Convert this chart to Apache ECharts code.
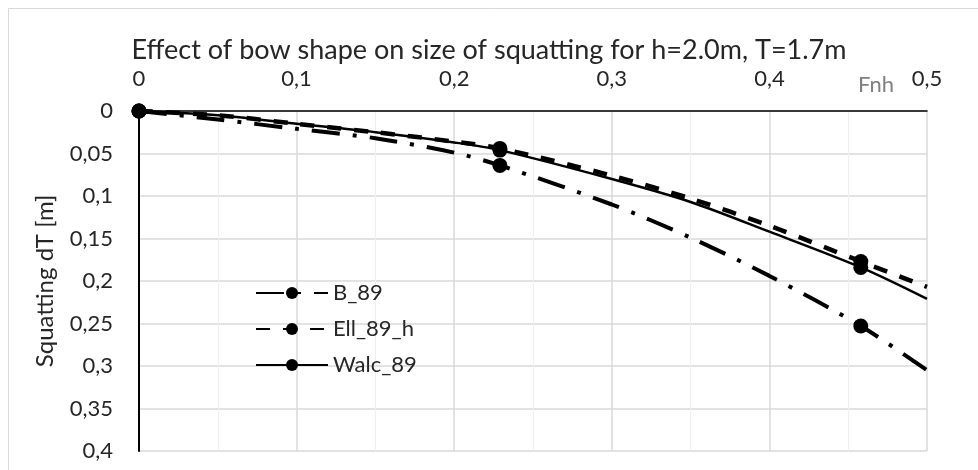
<!DOCTYPE html>
<html>
<head>
<meta charset="utf-8">
<title>Squatting</title>
<script src="https://cdn.jsdelivr.net/npm/echarts@6/dist/echarts.min.js"></script>
<style>
  html, body { margin: 0; padding: 0; background: #fff; }
  #main { width: 978px; height: 470px; }
</style>
</head>
<body>
<div id="main"></div>
<script>
const fnh = [0, 0.05, 0.1, 0.15, 0.2, 0.229, 0.3, 0.35, 0.4, 0.458, 0.5];
// squatting dT [m]
const b89 = [0, 0.010, 0.021, 0.032, 0.049, 0.064, 0.110, 0.149, 0.194, 0.253, 0.305];
const ell89h = [0, 0.005, 0.015, 0.025, 0.036, 0.044, 0.076, 0.103, 0.135, 0.177, 0.207];
const walc89 = [0, 0.005, 0.015, 0.025, 0.037, 0.046, 0.080, 0.107, 0.142, 0.184, 0.221];
// points that carry a marker
const markerFnh = [0, 0.229, 0.458];

const seriesNames = ['B_89', 'Ell_89_h', 'Walc_89'];

const font = 'Lato, "Open Sans", sans-serif';
const comma = v => String(+v.toFixed(2)).replace('.', ',');

function points(vals) {
    return fnh.map((x, i) => ({
        value: [x, vals[i]],
        symbol: markerFnh.indexOf(x) >= 0 ? 'circle' : 'none'
    }));
}

let myChart = echarts.init(document.getElementById('main'));
myChart.setOption({
    backgroundColor: '#fff',
    animation: false,
    title: {
        text: 'Effect of bow shape on size of squatting for h=2.0m, T=1.7m',
        left: 'center',
        top: 32,
        textStyle: {fontFamily: font, fontSize: 27, fontWeight: 'normal', color: '#262626'}
    },
    graphic: [{
        type: 'rect',
        shape: {x: 8.5, y: 8.5, width: 1000, height: 1000},
        style: {fill: 'none', stroke: '#d9d9d9', lineWidth: 1}
    }],
    legend: {
        orient: 'vertical',
        left: 250,
        top: 277,
        itemWidth: 72,
        itemHeight: 15,
        itemGap: 14,
        data: seriesNames,
        textStyle: {fontFamily: font, fontSize: 22, color: '#262626'}
    },
    grid: {left: 139, right: 51, top: 111, bottom: 19},
    xAxis: {
        type: 'value',
        position: 'top',
        min: 0,
        max: 0.5,
        interval: 0.1,
        name: 'Fnh',
        nameLocation: 'end',
        nameGap: -69,
        nameTextStyle: {
            fontFamily: font, fontSize: 22, color: '#7f7f7f',
            align: 'left', verticalAlign: 'bottom', padding: [0, 0, 15, 0]
        },
        axisLine: {show: true, onZero: false, lineStyle: {color: '#000', width: 1.5}},
        axisTick: {show: false},
        axisLabel: {
            margin: 21,
            fontFamily: font, fontSize: 22, color: '#262626',
            formatter: comma
        },
        splitLine: {show: true, lineStyle: {color: '#d9d9d9', width: 1.5}},
        minorTick: {show: false, splitNumber: 2},
        minorSplitLine: {show: true, lineStyle: {color: '#efefef', width: 1}}
    },
    yAxis: {
        type: 'value',
        inverse: true,
        min: 0,
        max: 0.4,
        interval: 0.05,
        name: 'Squatting dT [m]',
        nameLocation: 'middle',
        nameGap: 82,
        nameTextStyle: {fontFamily: font, fontSize: 24, color: '#262626'},
        axisLine: {show: true, onZero: false, lineStyle: {color: '#000', width: 2}},
        axisTick: {show: false},
        axisLabel: {
            margin: 26,
            fontFamily: font, fontSize: 22, color: '#262626',
            formatter: comma
        },
        splitLine: {show: true, lineStyle: {color: '#d9d9d9', width: 1.5}}
    },
    series: [{
        name: 'B_89',
        type: 'line',
        smooth: 0.3,
        symbol: 'circle',
        symbolSize: 15,
        itemStyle: {color: '#000'},
        lineStyle: {color: '#000', width: 4, type: [28, 13, 4, 13]},
        data: points(b89),
        z: 3
    }, {
        name: 'Ell_89_h',
        type: 'line',
        smooth: 0.3,
        symbol: 'circle',
        symbolSize: 15,
        itemStyle: {color: '#000'},
        lineStyle: {color: '#000', width: 4.5, type: [14, 13]},
        data: points(ell89h),
        z: 4
    }, {
        name: 'Walc_89',
        type: 'line',
        smooth: 0.3,
        symbol: 'circle',
        symbolSize: 15,
        itemStyle: {color: '#000'},
        lineStyle: {color: '#000', width: 2.5},
        data: points(walc89),
        z: 5
    }]
});
window.onresize = myChart.resize;
</script>
</body>
</html>
